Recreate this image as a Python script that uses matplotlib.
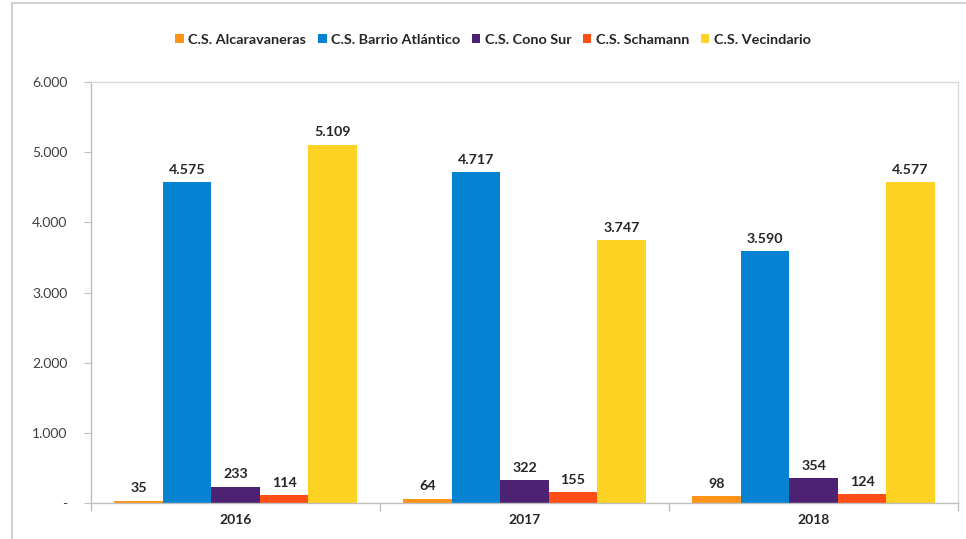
import matplotlib
matplotlib.use("Agg")
import matplotlib.pyplot as plt
import numpy as np
from matplotlib.ticker import FuncFormatter, FixedLocator
from matplotlib.lines import Line2D
from matplotlib.patches import Patch

plt.rcParams['font.family'] = ['Lato', 'DejaVu Sans']

years = ["2016", "2017", "2018"]
series_names = ["C.S. Alcaravaneras", "C.S. Barrio Atlántico", "C.S. Cono Sur",
                "C.S. Schamann", "C.S. Vecindario"]
alcaravaneras = [35, 64, 98]
barrio_atlantico = [4575, 4717, 3590]
cono_sur = [233, 322, 354]
schamann = [114, 155, 124]
vecindario = [5109, 3747, 4577]
series_values = [alcaravaneras, barrio_atlantico, cono_sur, schamann, vecindario]
colors = ["#FF9419", "#0582D2", "#4E2272", "#FF4F17", "#FFD323"]

def fmt(v):
    return f"{int(v):,}".replace(",", ".")

fig = plt.figure(figsize=(9.66, 5.39), dpi=100)
ax = fig.add_axes([91/966, 1 - 503/539, (958-91)/966, (503-82)/539])

x = np.arange(len(years))
bw = 0.168
n = len(series_values)
for i, (name, vals, c) in enumerate(zip(series_names, series_values, colors)):
    off = (i - (n - 1) / 2) * bw
    ax.bar(x + off, vals, width=bw, color=c, label=name, zorder=2)
    for xi, v in zip(x + off, vals):
        ax.text(xi, v + 90, fmt(v), ha="center", va="bottom", fontsize=10.3,
                fontweight="bold", color="#262626")

ax.set_xlim(-0.5, 2.5)
ax.set_ylim(0, 6000)
ax.set_yticks(range(0, 6001, 1000))
ax.yaxis.set_major_formatter(FuncFormatter(lambda v, p: "-" if v == 0 else fmt(v)))
ax.set_xticks(x)
ax.set_xticklabels(years, fontsize=10, fontweight="bold", color="#262626")
ax.xaxis.set_minor_locator(FixedLocator([-0.5, 0.5, 1.5, 2.5]))
ax.tick_params(axis="x", which="major", length=0, pad=8)
ax.tick_params(axis="x", which="minor", length=6, color="#BFBFBF", width=1)
ax.tick_params(axis="y", length=5, color="#BFBFBF", labelsize=10, labelcolor="#404040", pad=12)
for s in ax.spines.values():
    s.set_color("#D9D9D9")
    s.set_linewidth(1)
ax.spines["left"].set_color("#BFBFBF")
ax.spines["bottom"].set_color("#BFBFBF")

handles = [Patch(facecolor=c, label=nm) for nm, c in zip(series_names, colors)]
leg = fig.legend(handles=handles, loc="center", bbox_to_anchor=(493/966, 1 - 40/539),
                 ncol=5, frameon=False, handlelength=0.6, handleheight=0.6,
                 handletextpad=0.3, columnspacing=0.8, prop={"weight": "bold", "size": 10.4})
for t in leg.get_texts():
    t.set_color("#262626")

# outer frame lines (cropped chart border)
fig.add_artist(Line2D([12/966, 1], [1 - 3/539, 1 - 3/539], color="#D0D0D0", lw=1.5,
                      transform=fig.transFigure))
fig.add_artist(Line2D([12/966, 12/966], [0, 1 - 3/539], color="#D0D0D0", lw=1.5,
                      transform=fig.transFigure))

fig.savefig("out.png", dpi=100)
